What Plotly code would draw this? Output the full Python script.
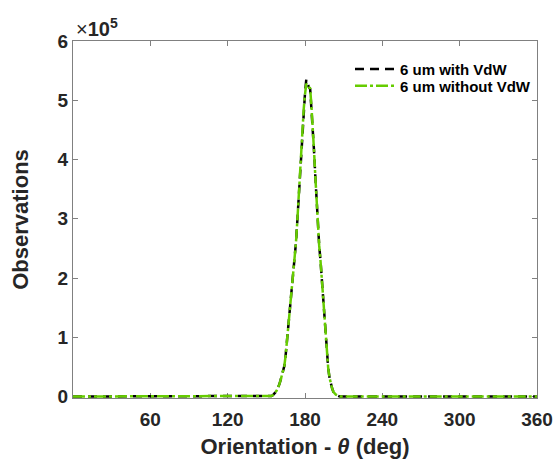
import plotly.graph_objects as go

# Orientation angle (deg)
theta = [0, 150, 151, 152, 153, 154, 155, 156, 157, 158, 159, 160, 161, 162, 163,
         164, 165, 166, 167, 168, 169, 170, 171, 172, 173, 174, 175, 176, 177, 178,
         179, 180, 181, 182, 183, 184, 185, 186, 187, 188, 189, 190, 191, 192, 193,
         194, 195, 196, 197, 198, 199, 200, 201, 202, 203, 204, 205, 206, 207, 360]

# Observations, 6 um without VdW
obs_without = [0, 0, 0, 0, 500, 1000, 2000, 4000, 7000, 10000, 14000, 20000, 27000, 34000, 42000,
               52000, 70000, 93000, 115000, 137000, 159000, 184000, 204000, 230000, 260000, 295000, 335000, 366000, 408000, 452000,
               485000, 510000, 528000, 524000, 522000, 520000, 490000, 458000, 415000, 372000, 330000, 288000, 255000, 230000, 200000,
               170000, 135000, 100000, 73000, 48000, 32000, 22000, 14000, 8000, 5000, 3000, 2000, 1000, 0, 0]

# Observations, 6 um with VdW
obs_with = [0, 0, 0, 0, 500, 1000, 2000, 4000, 7000, 10000, 14000, 20000, 27000, 34000, 42000,
            52000, 70000, 93000, 115000, 137000, 159000, 184000, 204000, 230000, 260000, 295000, 335000, 366000, 408000, 452000,
            485000, 512000, 535000, 526000, 522000, 519000, 490000, 458000, 415000, 372000, 330000, 288000, 255000, 230000, 200000,
            170000, 135000, 100000, 73000, 48000, 32000, 22000, 14000, 8000, 5000, 3000, 2000, 1000, 0, 0]

x_ticks = [60, 120, 180, 240, 300, 360]
y_ticks = [0, 100000, 200000, 300000, 400000, 500000, 600000]
y_tick_labels = ["0", "1", "2", "3", "4", "5", "6"]

FONT = "Liberation Sans, Arial, sans-serif"
AX = "#808080"
TXT = "#262626"

fig = go.Figure()
fig.add_trace(go.Scatter(
    x=theta, y=obs_with, mode="lines", name="6 um with VdW", legend="legend",
    line=dict(color="black", width=2.5, dash="9px,6px"),
))
fig.add_trace(go.Scatter(
    x=theta, y=obs_without, mode="lines", name="6 um without VdW", legend="legend2",
    line=dict(color="#66cc00", width=2.5, dash="12px,3px,3px,3px"),
))

leg_common = dict(
    xanchor="left", yanchor="middle",
    bgcolor="rgba(255,255,255,0)", borderwidth=0,
    font=dict(family=FONT, size=15, color="black", weight="bold"),
    itemwidth=40,
)

fig.update_layout(
    width=557, height=459,
    margin=dict(l=73, r=20, t=41, b=61, autoexpand=False),
    paper_bgcolor="white", plot_bgcolor="white",
    font=dict(family=FONT, color=TXT),
    showlegend=True,
    legend=dict(x=0.597, y=0.921, **leg_common),
    legend2=dict(x=0.597, y=0.874, **leg_common),
    xaxis=dict(
        range=[0, 360], tickmode="array", tickvals=x_ticks,
        ticks="inside", ticklen=5, tickcolor=AX, tickwidth=1,
        showline=True, linecolor=AX, linewidth=1, mirror="ticks",
        showgrid=False, zeroline=False, automargin=False,
        ticklabelstandoff=4,
        tickfont=dict(family=FONT, size=19, color=TXT, weight="bold"),
        title=dict(text="Orientation - <i>θ</i> (deg)", standoff=14,
                   font=dict(family=FONT, size=22, color=TXT, weight="bold")),
        layer="below traces",
    ),
    yaxis=dict(
        range=[-2500, 600000], tickmode="array", tickvals=y_ticks, ticktext=y_tick_labels,
        ticks="inside", ticklen=5, tickcolor=AX, tickwidth=1,
        showline=True, linecolor=AX, linewidth=1, mirror="ticks",
        showgrid=False, zeroline=False, automargin=False,
        tickfont=dict(family=FONT, size=19, color=TXT, weight="bold"),
        title=dict(text="Observations", standoff=22,
                   font=dict(family=FONT, size=22, color=TXT, weight="bold")),
        layer="below traces",
    ),
)

fig.add_annotation(
    xref="paper", yref="paper", x=0, y=1, xanchor="left", yanchor="bottom",
    text="×<b>10<sup>5</sup></b>", showarrow=False,
    font=dict(family=FONT, size=20, color=TXT), xshift=1, yshift=-1,
)

fig.write_html("out.html", config={"displayModeBar": False},
               post_script="document.body.style.margin='0';")
